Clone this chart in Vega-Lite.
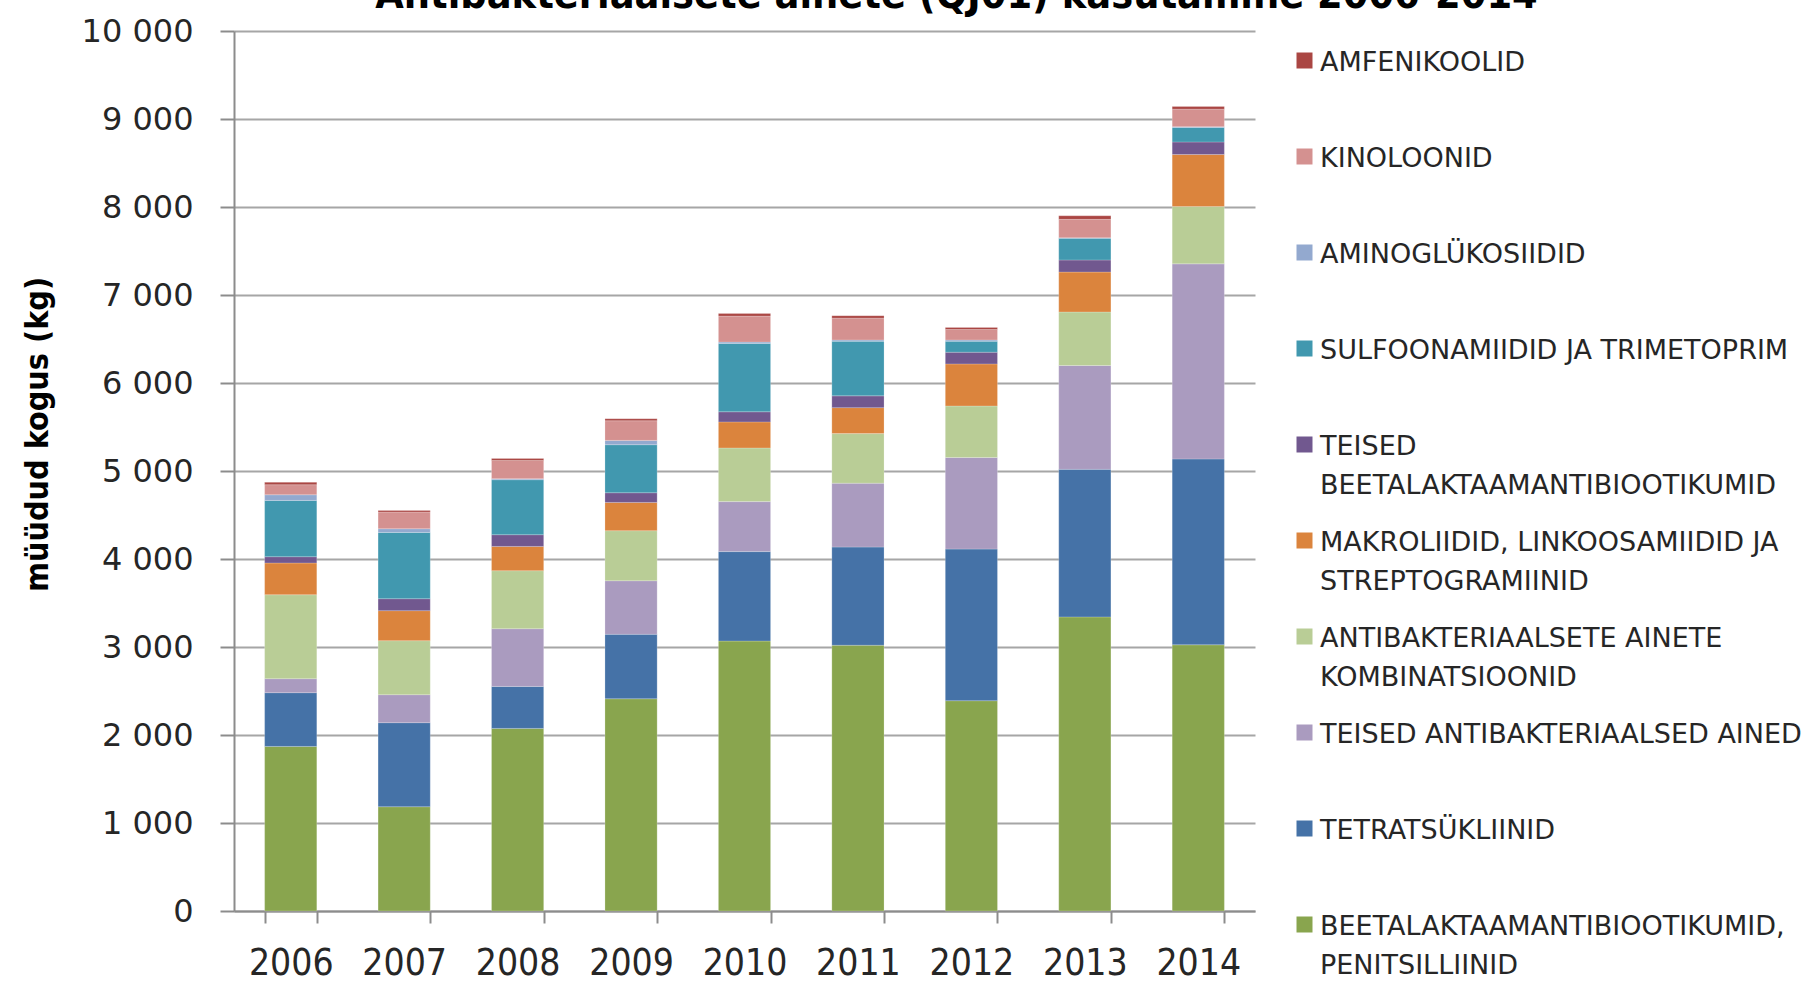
{
  "$schema": "https://vega.github.io/schema/vega-lite/v6.json",
  "width": 1021,
  "height": 880,
  "autosize": {"type": "none"},
  "padding": {"top": 31, "left": 234, "right": 560, "bottom": 72},
  "background": "white",
  "title": {
    "text": "Antibakteriaalsete ainete  (QJ01) kasutamine 2006-2014",
    "font": "DejaVu Sans Condensed, Liberation Sans",
    "fontSize": 41,
    "fontWeight": "bold",
    "color": "#000000",
    "baseline": "alphabetic",
    "anchor": "middle",
    "dx": 212,
    "dy": 34,
    "offset": 0
  },
  "data": {
    "values": [
      {"year": "2006", "class": "BEETALAKTAAMANTIBIOOTIKUMID, PENITSILLIINID", "kg": 1870},
      {"year": "2006", "class": "TETRATSÜKLIINID", "kg": 611},
      {"year": "2006", "class": "TEISED ANTIBAKTERIAALSED AINED", "kg": 159},
      {"year": "2006", "class": "ANTIBAKTERIAALSETE AINETE KOMBINATSIOONID", "kg": 954},
      {"year": "2006", "class": "MAKROLIIDID, LINKOOSAMIIDID JA STREPTOGRAMIINID", "kg": 361},
      {"year": "2006", "class": "TEISED BEETALAKTAAMANTIBIOOTIKUMID", "kg": 71},
      {"year": "2006", "class": "SULFOONAMIIDID JA TRIMETOPRIM", "kg": 640},
      {"year": "2006", "class": "AMINOGLÜKOSIIDID", "kg": 64},
      {"year": "2006", "class": "KINOLOONID", "kg": 114},
      {"year": "2006", "class": "AMFENIKOOLID", "kg": 27},
      {"year": "2007", "class": "BEETALAKTAAMANTIBIOOTIKUMID, PENITSILLIINID", "kg": 1185},
      {"year": "2007", "class": "TETRATSÜKLIINID", "kg": 955},
      {"year": "2007", "class": "TEISED ANTIBAKTERIAALSED AINED", "kg": 318},
      {"year": "2007", "class": "ANTIBAKTERIAALSETE AINETE KOMBINATSIOONID", "kg": 614},
      {"year": "2007", "class": "MAKROLIIDID, LINKOOSAMIIDID JA STREPTOGRAMIINID", "kg": 341},
      {"year": "2007", "class": "TEISED BEETALAKTAAMANTIBIOOTIKUMID", "kg": 136},
      {"year": "2007", "class": "SULFOONAMIIDID JA TRIMETOPRIM", "kg": 753},
      {"year": "2007", "class": "AMINOGLÜKOSIIDID", "kg": 42},
      {"year": "2007", "class": "KINOLOONID", "kg": 190},
      {"year": "2007", "class": "AMFENIKOOLID", "kg": 18},
      {"year": "2008", "class": "BEETALAKTAAMANTIBIOOTIKUMID, PENITSILLIINID", "kg": 2075},
      {"year": "2008", "class": "TETRATSÜKLIINID", "kg": 477},
      {"year": "2008", "class": "TEISED ANTIBAKTERIAALSED AINED", "kg": 656},
      {"year": "2008", "class": "ANTIBAKTERIAALSETE AINETE KOMBINATSIOONID", "kg": 659},
      {"year": "2008", "class": "MAKROLIIDID, LINKOOSAMIIDID JA STREPTOGRAMIINID", "kg": 276},
      {"year": "2008", "class": "TEISED BEETALAKTAAMANTIBIOOTIKUMID", "kg": 133},
      {"year": "2008", "class": "SULFOONAMIIDID JA TRIMETOPRIM", "kg": 625},
      {"year": "2008", "class": "AMINOGLÜKOSIIDID", "kg": 12},
      {"year": "2008", "class": "KINOLOONID", "kg": 207},
      {"year": "2008", "class": "AMFENIKOOLID", "kg": 23},
      {"year": "2009", "class": "BEETALAKTAAMANTIBIOOTIKUMID, PENITSILLIINID", "kg": 2412},
      {"year": "2009", "class": "TETRATSÜKLIINID", "kg": 732},
      {"year": "2009", "class": "TEISED ANTIBAKTERIAALSED AINED", "kg": 609},
      {"year": "2009", "class": "ANTIBAKTERIAALSETE AINETE KOMBINATSIOONID", "kg": 569},
      {"year": "2009", "class": "MAKROLIIDID, LINKOOSAMIIDID JA STREPTOGRAMIINID", "kg": 321},
      {"year": "2009", "class": "TEISED BEETALAKTAAMANTIBIOOTIKUMID", "kg": 110},
      {"year": "2009", "class": "SULFOONAMIIDID JA TRIMETOPRIM", "kg": 546},
      {"year": "2009", "class": "AMINOGLÜKOSIIDID", "kg": 49},
      {"year": "2009", "class": "KINOLOONID", "kg": 223},
      {"year": "2009", "class": "AMFENIKOOLID", "kg": 23},
      {"year": "2010", "class": "BEETALAKTAAMANTIBIOOTIKUMID, PENITSILLIINID", "kg": 3068},
      {"year": "2010", "class": "TETRATSÜKLIINID", "kg": 1016},
      {"year": "2010", "class": "TEISED ANTIBAKTERIAALSED AINED", "kg": 568},
      {"year": "2010", "class": "ANTIBAKTERIAALSETE AINETE KOMBINATSIOONID", "kg": 610},
      {"year": "2010", "class": "MAKROLIIDID, LINKOOSAMIIDID JA STREPTOGRAMIINID", "kg": 296},
      {"year": "2010", "class": "TEISED BEETALAKTAAMANTIBIOOTIKUMID", "kg": 115},
      {"year": "2010", "class": "SULFOONAMIIDID JA TRIMETOPRIM", "kg": 777},
      {"year": "2010", "class": "AMINOGLÜKOSIIDID", "kg": 15},
      {"year": "2010", "class": "KINOLOONID", "kg": 295},
      {"year": "2010", "class": "AMFENIKOOLID", "kg": 29},
      {"year": "2011", "class": "BEETALAKTAAMANTIBIOOTIKUMID, PENITSILLIINID", "kg": 3020},
      {"year": "2011", "class": "TETRATSÜKLIINID", "kg": 1116},
      {"year": "2011", "class": "TEISED ANTIBAKTERIAALSED AINED", "kg": 726},
      {"year": "2011", "class": "ANTIBAKTERIAALSETE AINETE KOMBINATSIOONID", "kg": 563},
      {"year": "2011", "class": "MAKROLIIDID, LINKOOSAMIIDID JA STREPTOGRAMIINID", "kg": 295},
      {"year": "2011", "class": "TEISED BEETALAKTAAMANTIBIOOTIKUMID", "kg": 134},
      {"year": "2011", "class": "SULFOONAMIIDID JA TRIMETOPRIM", "kg": 620},
      {"year": "2011", "class": "AMINOGLÜKOSIIDID", "kg": 15},
      {"year": "2011", "class": "KINOLOONID", "kg": 248},
      {"year": "2011", "class": "AMFENIKOOLID", "kg": 28},
      {"year": "2012", "class": "BEETALAKTAAMANTIBIOOTIKUMID, PENITSILLIINID", "kg": 2390},
      {"year": "2012", "class": "TETRATSÜKLIINID", "kg": 1723},
      {"year": "2012", "class": "TEISED ANTIBAKTERIAALSED AINED", "kg": 1040},
      {"year": "2012", "class": "ANTIBAKTERIAALSETE AINETE KOMBINATSIOONID", "kg": 586},
      {"year": "2012", "class": "MAKROLIIDID, LINKOOSAMIIDID JA STREPTOGRAMIINID", "kg": 478},
      {"year": "2012", "class": "TEISED BEETALAKTAAMANTIBIOOTIKUMID", "kg": 133},
      {"year": "2012", "class": "SULFOONAMIIDID JA TRIMETOPRIM", "kg": 124},
      {"year": "2012", "class": "AMINOGLÜKOSIIDID", "kg": 15},
      {"year": "2012", "class": "KINOLOONID", "kg": 119},
      {"year": "2012", "class": "AMFENIKOOLID", "kg": 24},
      {"year": "2013", "class": "BEETALAKTAAMANTIBIOOTIKUMID, PENITSILLIINID", "kg": 3342},
      {"year": "2013", "class": "TETRATSÜKLIINID", "kg": 1677},
      {"year": "2013", "class": "TEISED ANTIBAKTERIAALSED AINED", "kg": 1180},
      {"year": "2013", "class": "ANTIBAKTERIAALSETE AINETE KOMBINATSIOONID", "kg": 608},
      {"year": "2013", "class": "MAKROLIIDID, LINKOOSAMIIDID JA STREPTOGRAMIINID", "kg": 454},
      {"year": "2013", "class": "TEISED BEETALAKTAAMANTIBIOOTIKUMID", "kg": 137},
      {"year": "2013", "class": "SULFOONAMIIDID JA TRIMETOPRIM", "kg": 247},
      {"year": "2013", "class": "AMINOGLÜKOSIIDID", "kg": 5},
      {"year": "2013", "class": "KINOLOONID", "kg": 210},
      {"year": "2013", "class": "AMFENIKOOLID", "kg": 40},
      {"year": "2014", "class": "BEETALAKTAAMANTIBIOOTIKUMID, PENITSILLIINID", "kg": 3025},
      {"year": "2014", "class": "TETRATSÜKLIINID", "kg": 2112},
      {"year": "2014", "class": "TEISED ANTIBAKTERIAALSED AINED", "kg": 2217},
      {"year": "2014", "class": "ANTIBAKTERIAALSETE AINETE KOMBINATSIOONID", "kg": 652},
      {"year": "2014", "class": "MAKROLIIDID, LINKOOSAMIIDID JA STREPTOGRAMIINID", "kg": 590},
      {"year": "2014", "class": "TEISED BEETALAKTAAMANTIBIOOTIKUMID", "kg": 143},
      {"year": "2014", "class": "SULFOONAMIIDID JA TRIMETOPRIM", "kg": 164},
      {"year": "2014", "class": "AMINOGLÜKOSIIDID", "kg": 10},
      {"year": "2014", "class": "KINOLOONID", "kg": 199},
      {"year": "2014", "class": "AMFENIKOOLID", "kg": 31}
    ]
  },
  "transform": [
    {"calculate": "indexof(['BEETALAKTAAMANTIBIOOTIKUMID, PENITSILLIINID', 'TETRATSÜKLIINID', 'TEISED ANTIBAKTERIAALSED AINED', 'ANTIBAKTERIAALSETE AINETE KOMBINATSIOONID', 'MAKROLIIDID, LINKOOSAMIIDID JA STREPTOGRAMIINID', 'TEISED BEETALAKTAAMANTIBIOOTIKUMID', 'SULFOONAMIIDID JA TRIMETOPRIM', 'AMINOGLÜKOSIIDID', 'KINOLOONID', 'AMFENIKOOLID'], datum.class)", "as": "stackOrder"}
  ],
  "mark": {"type": "bar", "stroke": "#ffffff", "strokeOpacity": 0.35, "strokeWidth": 0.6},
  "encoding": {
    "x": {
      "field": "year",
      "type": "ordinal",
      "scale": {"paddingInner": 0.54, "paddingOuter": 0.27},
      "axis": {
        "title": null,
        "labelAngle": 0,
        "labelFont": "DejaVu Sans Condensed, Liberation Sans",
        "labelFontSize": 37,
        "labelColor": "#262626",
        "labelPadding": 22,
        "domainColor": "#8c8c8c",
        "domainWidth": 2,
        "tickBand": "extent",
        "tickColor": "#8c8c8c",
        "tickWidth": 2,
        "tickSize": 12,
        "grid": false
      }
    },
    "y": {
      "field": "kg",
      "type": "quantitative",
      "aggregate": "sum",
      "stack": "zero",
      "scale": {"domain": [0, 10000], "nice": false},
      "axis": {
        "title": "müüdud kogus (kg)",
        "titleFont": "DejaVu Sans Condensed, Liberation Sans",
        "titleFontSize": 32,
        "titleFontWeight": "bold",
        "titleColor": "#000000",
        "titleX": -197,
        "titleY": 403,
        "titleAngle": -90,
        "titleAlign": "center",
        "titleBaseline": "middle",
        "values": [0, 1000, 2000, 3000, 4000, 5000, 6000, 7000, 8000, 9000, 10000],
        "labelExpr": "replace(format(datum.value, ','), ',', ' ')",
        "labelFont": "DejaVu Sans, Liberation Sans",
        "labelFontSize": 32,
        "labelColor": "#262626",
        "labelPadding": 27,
        "domainColor": "#8c8c8c",
        "domainWidth": 2,
        "tickColor": "#8c8c8c",
        "tickWidth": 2,
        "tickSize": 14,
        "grid": true,
        "gridColor": "#a6a6a6",
        "gridWidth": 2
      }
    },
    "order": {"field": "stackOrder", "type": "quantitative", "sort": "ascending"},
    "color": {
      "field": "class",
      "type": "nominal",
      "scale": {
        "domain": [
          "BEETALAKTAAMANTIBIOOTIKUMID, PENITSILLIINID",
          "TETRATSÜKLIINID",
          "TEISED ANTIBAKTERIAALSED AINED",
          "ANTIBAKTERIAALSETE AINETE KOMBINATSIOONID",
          "MAKROLIIDID, LINKOOSAMIIDID JA STREPTOGRAMIINID",
          "TEISED BEETALAKTAAMANTIBIOOTIKUMID",
          "SULFOONAMIIDID JA TRIMETOPRIM",
          "AMINOGLÜKOSIIDID",
          "KINOLOONID",
          "AMFENIKOOLID"
        ],
        "range": ["#89a54e", "#4572a7", "#aa9bbf", "#b9cd96", "#db843d", "#71588f", "#4198af", "#93a9cf", "#d49190", "#aa4643"]
      },
      "legend": {
        "title": null,
        "orient": "none",
        "legendX": 1057,
        "legendY": 16,
        "padding": 0,
        "values": [
          "AMFENIKOOLID",
          "KINOLOONID",
          "AMINOGLÜKOSIIDID",
          "SULFOONAMIIDID JA TRIMETOPRIM",
          "TEISED BEETALAKTAAMANTIBIOOTIKUMID",
          "MAKROLIIDID, LINKOOSAMIIDID JA STREPTOGRAMIINID",
          "ANTIBAKTERIAALSETE AINETE KOMBINATSIOONID",
          "TEISED ANTIBAKTERIAALSED AINED",
          "TETRATSÜKLIINID",
          "BEETALAKTAAMANTIBIOOTIKUMID, PENITSILLIINID"
        ],
        "labelExpr": "datum.label == 'TEISED BEETALAKTAAMANTIBIOOTIKUMID' ? ['TEISED', 'BEETALAKTAAMANTIBIOOTIKUMID'] : datum.label == 'MAKROLIIDID, LINKOOSAMIIDID JA STREPTOGRAMIINID' ? ['MAKROLIIDID, LINKOOSAMIIDID JA', 'STREPTOGRAMIINID'] : datum.label == 'ANTIBAKTERIAALSETE AINETE KOMBINATSIOONID' ? ['ANTIBAKTERIAALSETE AINETE', 'KOMBINATSIOONID'] : datum.label == 'BEETALAKTAAMANTIBIOOTIKUMID, PENITSILLIINID' ? ['BEETALAKTAAMANTIBIOOTIKUMID,', 'PENITSILLIINID'] : datum.label",
        "labelFont": "DejaVu Sans, Liberation Sans",
        "labelFontSize": 27,
        "labelColor": "#262626",
        "labelLimit": 700,
        "labelBaseline": "top",
        "labelOffset": 2,
        "symbolType": "square",
        "symbolSize": 256,
        "symbolStrokeWidth": 0,
        "rowPadding": 28,
        "gridAlign": "all",
        "encoding": {"labels": {"dy": {"value": -11}, "lineHeight": {"value": 39}}}
      }
    }
  },
  "config": {"view": {"stroke": null}}
}
